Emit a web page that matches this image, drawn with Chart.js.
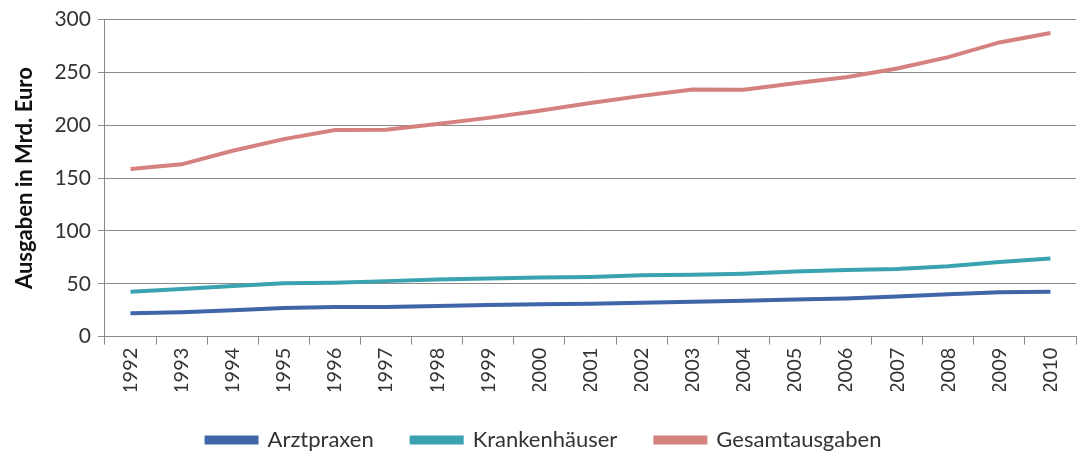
<!DOCTYPE html>
<html>
<head>
<meta charset="utf-8">
<script src="https://cdn.jsdelivr.net/npm/chart.js@4/dist/chart.umd.min.js"></script>
<style>
  html, body { margin: 0; padding: 0; background: #fff; }
  #wrap { width: 1082px; height: 459px; }
</style>
</head>
<body>
<div id="wrap"><canvas id="chart" width="1082" height="459"></canvas></div>
<script>
let years = ["1992","1993","1994","1995","1996","1997","1998","1999","2000","2001",
             "2002","2003","2004","2005","2006","2007","2008","2009","2010"];
let arztpraxen = [22, 23, 25, 27, 28, 28, 29, 30, 30.5, 31, 32, 33, 34, 35, 36, 38, 40, 42, 42.5];
let krankenhaeuser = [42.5, 45, 48, 50.5, 51, 52.5, 54, 55, 56, 56.5, 58, 58.5, 59.5, 61.5, 63, 64, 66.5, 70.5, 74];
let gesamt = [158.7, 163, 175.9, 186.9, 195.6, 195.7, 201.1, 207, 213.8, 221, 227.8, 233.8, 233.6, 239.7, 245.5, 253.7, 264.5, 278.4, 287.3];
let yTicks = [0, 50, 100, 150, 200, 250, 300];

let fontName = "Lato, 'Open Sans', sans-serif";

function series(label, data, color) {
  return {
    label: label,
    data: data,
    borderColor: color,
    backgroundColor: color,
    borderWidth: 4,
    pointRadius: 0,
    tension: 0,
    fill: false
  };
}

new Chart(document.getElementById("chart"), {
  type: 'line',
  data: {
    labels: years,
    datasets: [
      series("Arztpraxen", arztpraxen, "#3f66a8"),
      series("Krankenhäuser", krankenhaeuser, "#3aa3b1"),
      series("Gesamtausgaben", gesamt, "#d5817f")
    ]
  },
  options: {
    responsive: false,
    animation: false,
    devicePixelRatio: 1,
    layout: { padding: { top: 0, right: 6, left: 12, bottom: -2 } },
    plugins: {
      tooltip: { enabled: false },
      legend: {
        position: 'bottom',
        labels: {
          boxWidth: 50,
          boxHeight: 5,
          padding: 38,
          color: '#333',
          font: { family: fontName, size: 22 }
        }
      }
    },
    scales: {
      x: {
        offset: true,
        afterFit: function (axis) {
          // labels in the original sit closer to the legend
          axis.height -= 6;
        },
        grid: {
          offset: true,
          drawOnChartArea: false,
          drawTicks: true,
          tickLength: 8,
          color: '#8a8a8a'
        },
        border: { color: '#8a8a8a', width: 1 },
        ticks: {
          minRotation: 90,
          maxRotation: 90,
          autoSkip: false,
          padding: 3,
          color: '#333',
          font: { family: fontName, size: 20 }
        }
      },
      y: {
        min: 0,
        max: 300,
        afterBuildTicks: function (axis) {
          axis.ticks = yTicks.map(function (v) { return { value: v }; });
        },
        afterFit: function (axis) {
          // a bit more room between the numbers and the axis
          axis.width += 7;
        },
        grid: {
          color: '#8a8a8a',
          tickLength: 7
        },
        border: { color: '#8a8a8a', width: 1 },
        ticks: {
          padding: 7,
          color: '#333',
          font: { family: fontName, size: 21 }
        },
        title: {
          display: true,
          text: 'Ausgaben in Mrd. Euro',
          color: '#111',
          padding: { top: 0, bottom: 2 },
          font: { family: fontName, size: 22, weight: 'bold' }
        }
      }
    }
  }
});
</script>
</body>
</html>
